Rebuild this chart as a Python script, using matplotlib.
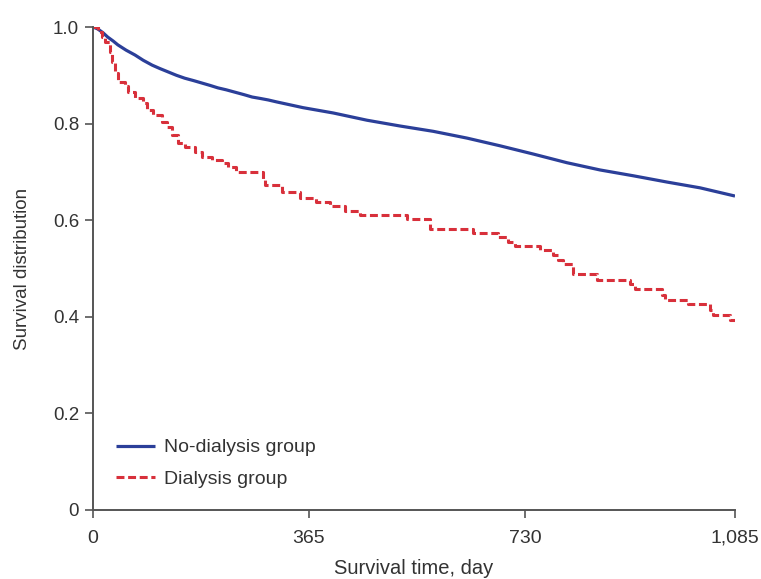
import matplotlib
matplotlib.use("Agg")
import matplotlib.pyplot as plt

# ---- data ----
nodial_days = [0, 8, 17, 25, 34, 42, 56, 71, 85, 100, 113, 127, 141, 155, 170, 184, 198,
               211, 225, 240, 255, 269, 283, 296, 310, 325, 340, 355,
               406, 463, 519, 575, 632, 688, 744, 801, 857, 913, 970, 1026, 1085]
nodial_surv = [1.0, 0.996, 0.988, 0.979, 0.971, 0.963, 0.952, 0.942, 0.931, 0.921, 0.914,
               0.907, 0.900, 0.894, 0.889, 0.884, 0.879, 0.874, 0.870, 0.865, 0.860,
               0.855, 0.852, 0.849, 0.845, 0.841, 0.837, 0.833,
               0.822, 0.807, 0.795, 0.784, 0.770, 0.754,
               0.737, 0.719, 0.704, 0.692, 0.679, 0.667, 0.650]

dial_days = [0, 8, 15, 20, 29, 32, 37, 42, 54, 59, 71, 85, 91, 101, 117, 125, 134, 144,
             155, 172, 184, 201, 218, 228, 242, 287, 291, 319, 350, 377, 401, 426, 451,
             531, 570, 642, 684, 701, 713, 755, 777, 786, 794, 811, 852, 908, 916, 962,
             967, 1006, 1043, 1048, 1077, 1085]
dial_surv = [1.0, 0.99, 0.98, 0.969, 0.948, 0.928, 0.905, 0.886, 0.878, 0.865, 0.853,
             0.843, 0.828, 0.818, 0.803, 0.793, 0.776, 0.760, 0.752, 0.741, 0.731, 0.725,
             0.718, 0.710, 0.700, 0.683, 0.673, 0.658, 0.646, 0.638, 0.629, 0.619, 0.611,
             0.602, 0.582, 0.574, 0.565, 0.555, 0.547, 0.538, 0.528, 0.518, 0.509, 0.489,
             0.476, 0.468, 0.458, 0.445, 0.435, 0.427, 0.414, 0.404, 0.394, 0.394]

x_ticks = [0, 365, 730, 1085]
x_tick_labels = ["0", "365", "730", "1,085"]
y_ticks = [0, 0.2, 0.4, 0.6, 0.8, 1.0]
y_tick_labels = ["0", "0.2", "0.4", "0.6", "0.8", "1.0"]
series_names = ["No-dialysis group", "Dialysis group"]

font = "Liberation Sans"

fig = plt.figure(figsize=(7.61, 5.79), dpi=100)
ax = fig.add_axes([93/761, 69/579, 642/761, 483/579])

ax.plot(nodial_days, nodial_surv, color="#2b3f99", lw=2.3, solid_capstyle="butt",
        label=series_names[0])
ax.step(dial_days, dial_surv, where="post", color="#d8303b", lw=2.2,
        dashes=(2.6, 1.2), label=series_names[1])

ax.set_xlim(0, 1085)
ax.set_ylim(0, 1.0)
ax.set_xticks(x_ticks)
ax.set_xticklabels(x_tick_labels, fontfamily=font, fontsize=14, color="#333333")
for lab in ax.get_xticklabels():
    lab.set_va("baseline")
ax.set_yticks(y_ticks)
ax.set_yticklabels(y_tick_labels, fontfamily=font, fontsize=13.5, color="#333333")
ax.tick_params(axis="x", direction="out", length=6, width=1.2, color="#555555", pad=17.5)
ax.tick_params(axis="y", direction="out", length=6, width=1.2, color="#555555", pad=4)
for s in ["top", "right"]:
    ax.spines[s].set_visible(False)
for s in ["left", "bottom"]:
    ax.spines[s].set_color("#555555")
    ax.spines[s].set_linewidth(1.4)

ax.set_xlabel("Survival time, day", fontfamily=font, fontsize=14.5, color="#333333",
              labelpad=9)
ax.set_ylabel("Survival distribution", fontfamily=font, fontsize=13.5, color="#333333",
              labelpad=16)

leg = ax.legend(loc="lower left", bbox_to_anchor=(0.008, 0.01), frameon=False,
                prop={"family": font, "size": 14}, handlelength=2.0,
                handletextpad=0.5, labelspacing=0.7)
for t in leg.get_texts():
    t.set_color("#333333")

fig.savefig("out.png", dpi=100)
